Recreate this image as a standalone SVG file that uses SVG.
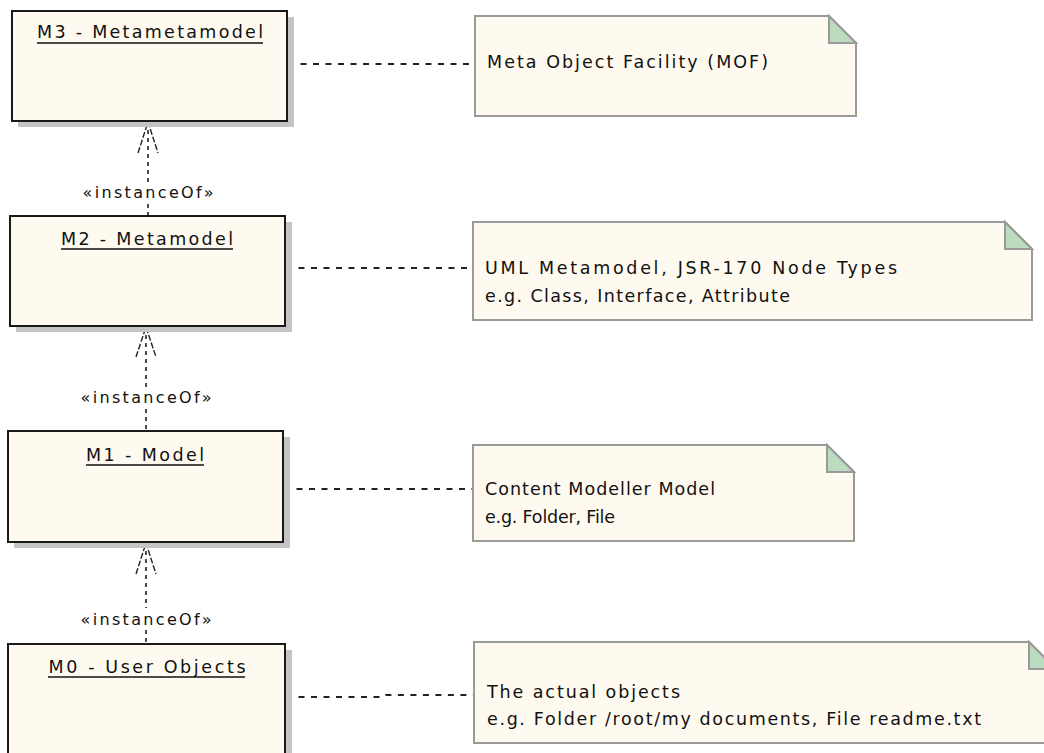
<svg xmlns="http://www.w3.org/2000/svg" width="1044" height="753" viewBox="0 0 1044 753">
  <style>
    .shadow { fill: #c4c4c4; }
    .box { fill: #fffaef; stroke: #1a1a1a; stroke-width: 2; }
    .title { font-family: "DejaVu Sans", Verdana, sans-serif; font-size: 17.5px; fill: #111; text-anchor: middle; }
    .uline { stroke: #111; stroke-width: 1.3; }
    .note { fill: #fffaef; stroke: #9a9a9a; stroke-width: 2; }
    .fold { fill: #bcdcbf; stroke: #9a9a9a; stroke-width: 2; stroke-linejoin: miter; }
    .ntext { font-family: "DejaVu Sans", Verdana, sans-serif; font-size: 17.5px; fill: #111; }
    .link { fill: none; stroke: #222; stroke-width: 2; stroke-dasharray: 6 6.5; }
    .dep { fill: none; stroke: #222; stroke-width: 1.6; stroke-dasharray: 4 4; }
    .head { fill: none; stroke: #222; stroke-width: 1.4; stroke-dasharray: 6 2; }
    .stereo { font-family: "DejaVu Sans", Verdana, sans-serif; font-size: 16px; fill: #111; text-anchor: middle; }
  </style>

  <rect width="1044" height="753" fill="#ffffff"/>

  <!-- note attachments and instanceOf dependencies -->
  <g id="connectors">
    <line class="link" x1="288" y1="64" x2="475" y2="64"/>
    <line class="link" x1="286" y1="268" x2="473" y2="268"/>
    <line class="link" x1="284" y1="489" x2="473" y2="489"/>
    <polyline class="link" points="286,697 383,697 386,695 473,695"/>

    <!-- M2 -> M3 -->
    <line class="dep" x1="148" y1="122" x2="148" y2="183"/>
    <line class="dep" x1="148" y1="204" x2="148" y2="216"/>
    <polyline class="head" points="138,153 148,122 158,153"/>
    <text class="stereo" x="148" y="198" textLength="131" lengthAdjust="spacing">«instanceOf»</text>

    <!-- M1 -> M2 -->
    <line class="dep" x1="146" y1="327" x2="146" y2="388"/>
    <line class="dep" x1="146" y1="409" x2="146" y2="431"/>
    <polyline class="head" points="136,357 146,327 156,357"/>
    <text class="stereo" x="146" y="403" textLength="131" lengthAdjust="spacing">«instanceOf»</text>

    <!-- M0 -> M1 -->
    <line class="dep" x1="146" y1="543" x2="146" y2="608"/>
    <line class="dep" x1="146" y1="630" x2="146" y2="644"/>
    <polyline class="head" points="136,574 146,543 156,574"/>
    <text class="stereo" x="146" y="625" textLength="131" lengthAdjust="spacing">«instanceOf»</text>
  </g>

  <g id="m3">
    <rect class="shadow" x="18" y="17" width="276" height="110"/>
    <rect class="box" x="12" y="11" width="275" height="110"/>
    <text class="title" x="150" y="38" textLength="226" lengthAdjust="spacing">M3 - Metametamodel</text>
    <line class="uline" x1="37" y1="43" x2="263" y2="43"/>
  </g>

  <g id="m2">
    <rect class="shadow" x="16" y="222" width="276" height="110"/>
    <rect class="box" x="10" y="216" width="275" height="110"/>
    <text class="title" x="147" y="245" textLength="172" lengthAdjust="spacing">M2 - Metamodel</text>
    <line class="uline" x1="61" y1="249" x2="233" y2="249"/>
  </g>

  <g id="m1">
    <rect class="shadow" x="14" y="437" width="276" height="111"/>
    <rect class="box" x="8" y="431" width="275" height="111"/>
    <text class="title" x="145" y="461" textLength="118" lengthAdjust="spacing">M1 - Model</text>
    <line class="uline" x1="86" y1="465" x2="204" y2="465"/>
  </g>

  <g id="m0">
    <rect class="shadow" x="14" y="650" width="278" height="130"/>
    <rect class="box" x="8" y="644" width="277" height="130"/>
    <text class="title" x="147" y="673" textLength="197" lengthAdjust="spacing">M0 - User Objects</text>
    <line class="uline" x1="48" y1="677" x2="245" y2="677"/>
  </g>

  <g id="note-mof">
    <path class="note" d="M475,16 H829 L856,43 V116 H475 Z"/>
    <path class="fold" d="M829,16 V43 H856 Z"/>
    <text class="ntext" x="487" y="68" textLength="281" lengthAdjust="spacing">Meta Object Facility (MOF)</text>
  </g>

  <g id="note-uml">
    <path class="note" d="M473,222 H1005 L1032,249 V320 H473 Z"/>
    <path class="fold" d="M1005,222 V249 H1032 Z"/>
    <text class="ntext" x="485" y="274" textLength="412" lengthAdjust="spacing">UML Metamodel, JSR-170 Node Types</text>
    <text class="ntext" x="485" y="302" textLength="305" lengthAdjust="spacing">e.g. Class, Interface, Attribute</text>
  </g>

  <g id="note-content">
    <path class="note" d="M473,445 H827 L854,472 V541 H473 Z"/>
    <path class="fold" d="M827,445 V472 H854 Z"/>
    <text class="ntext" x="485" y="495" textLength="230" lengthAdjust="spacing">Content Modeller Model</text>
    <text class="ntext" x="485" y="523" textLength="130" lengthAdjust="spacing">e.g. Folder, File</text>
  </g>

  <g id="note-objects">
    <path class="note" d="M474,642 H1029 L1056,669 V743 H474 Z"/>
    <path class="fold" d="M1029,642 V669 H1056 Z"/>
    <text class="ntext" x="487" y="698" textLength="193" lengthAdjust="spacing">The actual objects</text>
    <text class="ntext" x="487" y="725" textLength="494" lengthAdjust="spacing">e.g. Folder /root/my documents, File readme.txt</text>
  </g>
</svg>
